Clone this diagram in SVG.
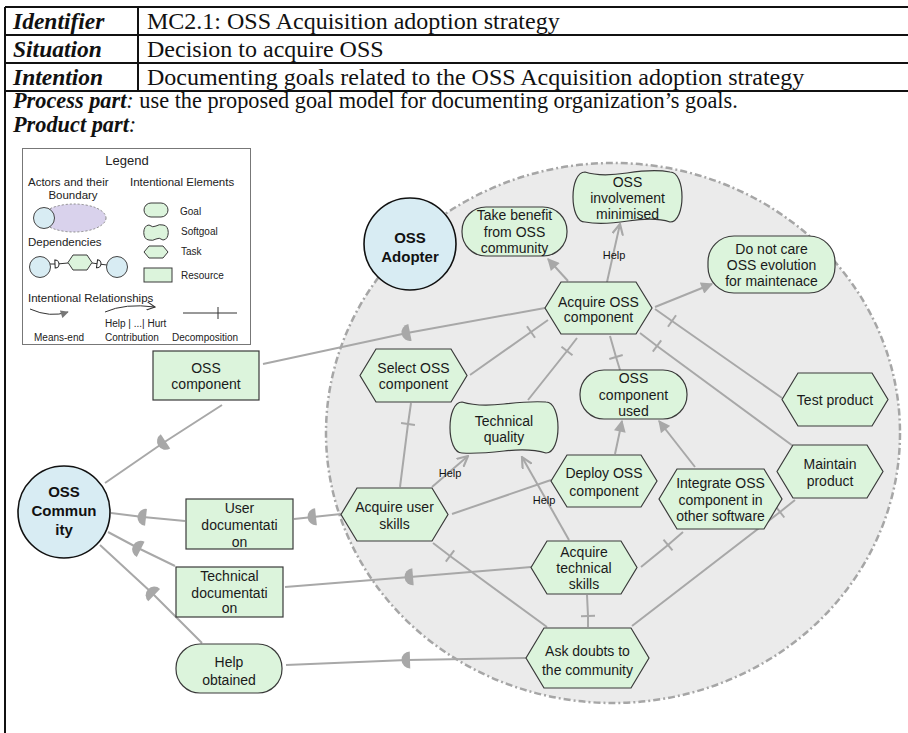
<svg xmlns="http://www.w3.org/2000/svg" width="908" height="733" viewBox="0 0 908 733">
<style>
.tbl{stroke:#111;stroke-width:2;fill:none}
.tb{font-family:"Liberation Serif","Times New Roman",serif;font-size:23.5px;font-weight:bold;font-style:italic;fill:#111}
.tr{font-family:"Liberation Serif","Times New Roman",serif;font-size:24px;fill:#111}
.tp{font-family:"Liberation Serif","Times New Roman",serif;font-size:22.3px;fill:#111}
.node{fill:#dcf4dc;stroke:#3a3a3a;stroke-width:1.2}
.actor{fill:#d8ecf3;stroke:#111;stroke-width:1.6}
.lbl{font-family:"Liberation Sans",Arial,sans-serif;font-size:14px;fill:#1a1a1a;text-anchor:middle}
.albl{font-family:"Liberation Sans",Arial,sans-serif;font-size:15px;font-weight:bold;fill:#111;text-anchor:middle}
.small{font-family:"Liberation Sans",Arial,sans-serif;font-size:11px;fill:#111;text-anchor:middle}
.link{fill:none;stroke:#a8a8a8;stroke-width:2}
.lg{font-family:"Liberation Sans",Arial,sans-serif;font-size:11.5px;fill:#222}
.lgs{font-family:"Liberation Sans",Arial,sans-serif;font-size:10px;fill:#222}
.lgl{fill:none;stroke:#333;stroke-width:1}
</style>
<defs>
<marker id="me" viewBox="0 0 10 10" refX="9" refY="5" markerWidth="13" markerHeight="12" markerUnits="userSpaceOnUse" orient="auto"><path d="M0,0 L10,5 L0,10 Z" fill="#a8a8a8"/></marker>
<marker id="help" viewBox="0 0 10 10" refX="9" refY="5" markerWidth="12" markerHeight="12" markerUnits="userSpaceOnUse" orient="auto"><path d="M0,0.5 L9,5 L0,9.5" fill="none" stroke="#a8a8a8" stroke-width="1.8"/></marker>
<marker id="dec" viewBox="-9 -9 18 18" refX="0" refY="0" markerWidth="18" markerHeight="18" markerUnits="userSpaceOnUse" orient="auto"><path d="M0,-7 L0,7" stroke="#a8a8a8" stroke-width="2"/></marker>
<marker id="dep" viewBox="-10 -10 20 20" refX="0" refY="0" markerWidth="20" markerHeight="20" markerUnits="userSpaceOnUse" orient="auto"><path d="M3,-8.5 A8.5,8.5 0 0,0 3,8.5 Z" fill="#a8a8a8"/></marker>
<marker id="lme" viewBox="0 0 10 10" refX="9" refY="5" markerWidth="9" markerHeight="8" markerUnits="userSpaceOnUse" orient="auto"><path d="M0,0 L10,5 L0,10 Z" fill="#777"/></marker>
<marker id="lhelp" viewBox="0 0 10 10" refX="9" refY="5" markerWidth="9" markerHeight="9" markerUnits="userSpaceOnUse" orient="auto"><path d="M0,0.5 L9,5 L0,9.5" fill="none" stroke="#333" stroke-width="1.2"/></marker>
<marker id="ldec" viewBox="-6 -6 12 12" refX="0" refY="0" markerWidth="12" markerHeight="12" markerUnits="userSpaceOnUse" orient="auto"><path d="M0,-6 L0,6" stroke="#333" stroke-width="1"/></marker>
<marker id="ldep" viewBox="-6 -6 12 12" refX="0" refY="0" markerWidth="12" markerHeight="12" markerUnits="userSpaceOnUse" orient="auto"><path d="M-2,-4 A4,4 0 0,1 -2,4 Z" fill="#fff" stroke="#222" stroke-width="1"/></marker>
</defs>

<!-- table -->
<g id="table">
<path class="tbl" d="M5,7 H908 M5,35 H908 M5,63 H908 M5,91 H908 M138,7 V91 M5,7 V733"/>
<text class="tb" x="13" y="29">Identifier</text>
<text class="tr" x="147" y="29">MC2.1: OSS Acquisition adoption strategy</text>
<text class="tb" x="13" y="57">Situation</text>
<text class="tr" x="147" y="57">Decision to acquire OSS</text>
<text class="tb" x="13" y="85">Intention</text>
<text class="tr" x="147" y="85">Documenting goals related to the OSS Acquisition adoption strategy</text>
<text class="tp" x="13" y="108"><tspan class="tb" style="font-size:22.3px">Process part</tspan><tspan style="font-style:italic">:</tspan> use the proposed goal model for documenting organization’s goals.</text>
<text class="tb" x="13" y="132" style="font-size:22.3px">Product part<tspan style="font-weight:normal">:</tspan></text>
</g>

<!-- legend -->
<g id="legend">
<rect x="22.5" y="148.5" width="228" height="196" fill="#fff" stroke="#777" stroke-width="1"/>
<text class="lg" x="127" y="165" style="font-size:13px" text-anchor="middle">Legend</text>
<text class="lg" x="28" y="186">Actors and their</text>
<text class="lg" x="73" y="199" text-anchor="middle">Boundary</text>
<ellipse cx="74" cy="218" rx="32" ry="14" fill="#d9d2ec" stroke="#888" stroke-width="1" stroke-dasharray="2 2"/>
<circle cx="44" cy="218" r="10.5" fill="#d8ecf3" stroke="#444" stroke-width="1"/>
<text class="lg" x="28" y="246">Dependencies</text>
<path class="lgl" d="M50,264 L57,264 L68,263"  marker-mid="url(#ldep)"/>
<path class="lgl" d="M92,263 L99,264 L107,265" marker-mid="url(#ldep)"/>
<polygon class="node" points="68,262.5 73,255 87,255 92,262.5 87,270 73,270" style="stroke-width:1"/>
<circle cx="40" cy="267" r="10.5" fill="#d8ecf3" stroke="#444" stroke-width="1"/>
<circle cx="117" cy="267" r="10.5" fill="#d8ecf3" stroke="#444" stroke-width="1"/>
<text class="lg" x="130" y="186">Intentional Elements</text>
<rect class="node" x="144" y="203" width="24" height="14" rx="7" style="stroke-width:1"/>
<text class="lgs" x="180" y="215">Goal</text>
<path class="node" style="stroke-width:1" d="M149,225 Q153,228 156,226 T163,225 C170,225 170,240 163,240 Q159,237 156,239 T149,240 C142,240 142,225 149,225 Z"/>
<text class="lgs" x="181" y="235">Softgoal</text>
<polygon class="node" style="stroke-width:1" points="144,252 149,246 163,246 168,252 163,258 149,258"/>
<text class="lgs" x="181" y="255">Task</text>
<rect class="node" style="stroke-width:1" x="144" y="268" width="28" height="14"/>
<text class="lgs" x="181" y="279">Resource</text>
<text class="lg" x="28" y="302">Intentional Relationships</text>
<path class="lgl" d="M30,309 Q50,318 68,312" stroke="#777" marker-end="url(#lme)"/>
<path class="lgl" d="M105,312 Q125,303 155,307" marker-end="url(#lhelp)"/>
<text class="lgs" x="105" y="327">Help | ...| Hurt</text>
<path class="lgl" d="M183,313 L218,313 L237,313" marker-mid="url(#ldec)"/>
<text class="lgs" x="34" y="341">Means-end</text>
<text class="lgs" x="105" y="341">Contribution</text>
<text class="lgs" x="172" y="341">Decomposition</text>
</g>

<!-- actor boundary -->
<g id="boundary">
<ellipse cx="613" cy="433" rx="287" ry="270" fill="#ebebeb" stroke="#a6a6a6" stroke-width="2.5" stroke-dasharray="7 3 2 3"/>
</g>

<!-- connectors -->
<g id="connectors">
<!-- dependencies -->
<path class="link" d="M263,364 L407,333 L545,308" marker-mid="url(#dep)"/>
<path class="link" d="M105,483 L163,443 L222,405" marker-mid="url(#dep)"/>
<path class="link" d="M111,513 L143,517 L185,521" marker-mid="url(#dep)"/>
<path class="link" d="M294,519 L313,517 L341,514" marker-mid="url(#dep)"/>
<path class="link" d="M108,532 L138,548 L175,566" marker-mid="url(#dep)"/>
<path class="link" d="M285,587 L410,577 L531,567" marker-mid="url(#dep)"/>
<path class="link" d="M100,545 L152,593 L202,643" marker-mid="url(#dep)"/>
<path class="link" d="M286,665 L407,660 L526,658" marker-mid="url(#dep)"/>
<!-- means-end -->
<path class="link" d="M568,281 L548,259" marker-end="url(#me)"/>
<path class="link" d="M655,307 L712,284" marker-end="url(#me)"/>
<path class="link" d="M615,454 L622,421" marker-end="url(#me)"/>
<path class="link" d="M695,467 L659,421" marker-end="url(#me)"/>
<!-- contributions -->
<path class="link" d="M607,282 L620,224" marker-end="url(#help)"/>
<path class="link" d="M432,487 L468,456" marker-end="url(#help)"/>
<path class="link" d="M569,540 L522,457" marker-end="url(#help)"/>
<!-- decompositions -->
<path class="link" d="M470,375 L531,332 L548,320" marker-mid="url(#dec)"/>
<path class="link" d="M528,400 L567,351 L577,338" marker-mid="url(#dec)"/>
<path class="link" d="M620,370 L616,357 L610,336" marker-mid="url(#dec)"/>
<path class="link" d="M782,398 L672,321 L655,309" marker-mid="url(#dec)"/>
<path class="link" d="M793,446 L657,346 L640,333" marker-mid="url(#dec)"/>
<path class="link" d="M400,487 L408,424 L411,403" marker-mid="url(#dec)"/>
<path class="link" d="M547,627 L450,556 L433,543" marker-mid="url(#dec)"/>
<path class="link" d="M588,627 L588,616 L587,595" marker-mid="url(#dec)"/>
<path class="link" d="M641,567 L668,545 L683,532" marker-mid="url(#dec)"/>
<path class="link" d="M632,626 L780,512 L795,500" marker-mid="url(#dec)"/>
<path class="link" d="M452,514 L551,480"/>
</g>

<!-- actors -->
<g id="oss-adopter">
<circle class="actor" cx="410" cy="244" r="46"/>
<text class="albl" x="410" y="243">OSS</text>
<text class="albl" x="410" y="262">Adopter</text>
</g>
<g id="oss-community">
<circle class="actor" cx="64" cy="512" r="46"/>
<text class="albl" x="64" y="497">OSS</text>
<text class="albl" x="64" y="516">Commun</text>
<text class="albl" x="64" y="535">ity</text>
</g>

<!-- intentional elements -->
<g id="take-benefit">
<rect class="node" x="462" y="207" width="105" height="49" rx="24"/>
<text class="lbl" x="514.5" y="220">Take benefit</text>
<text class="lbl" x="514.5" y="237">from OSS</text>
<text class="lbl" x="514.5" y="253">community</text>
</g>
<g id="oss-involvement">
<path class="node" d="M585,172 Q600,177 627,173 T670,172 C686,172 686,222 670,222 Q655,217 628,221 T585,222 C569,222 569,172 585,172 Z"/>
<text class="lbl" x="627.5" y="187">OSS</text>
<text class="lbl" x="627.5" y="203">involvement</text>
<text class="lbl" x="627.5" y="219">minimised</text>
</g>
<g id="acquire-oss">
<polygon class="node" points="545,308 561,282 636,282 652,308 636,334 561,334"/>
<text class="lbl" x="598.5" y="307">Acquire OSS</text>
<text class="lbl" x="598.5" y="322">component</text>
</g>
<g id="do-not-care">
<rect class="node" x="708" y="236" width="127" height="57" rx="26"/>
<text class="lbl" x="771.5" y="254">Do not care</text>
<text class="lbl" x="771.5" y="270">OSS evolution</text>
<text class="lbl" x="771.5" y="286">for maintenace</text>
</g>
<g id="test-product">
<polygon class="node" points="782,399.5 798,373 872,373 888,399.5 872,426 798,426"/>
<text class="lbl" x="835" y="405">Test product</text>
</g>
<g id="oss-used">
<rect class="node" x="580" y="370" width="107" height="49" rx="24"/>
<text class="lbl" x="633.5" y="383">OSS</text>
<text class="lbl" x="633.5" y="400">component</text>
<text class="lbl" x="633.5" y="416">used</text>
</g>
<g id="select-oss">
<polygon class="node" points="360,375.5 376,349 451,349 467,375.5 451,402 376,402"/>
<text class="lbl" x="413.5" y="373">Select OSS</text>
<text class="lbl" x="413.5" y="389">component</text>
</g>
<g id="technical-quality">
<path class="node" d="M462,402 Q478,407 504,404 T546,402 C562,402 562,453 546,453 Q530,448 504,451 T462,453 C446,453 446,402 462,402 Z"/>
<text class="lbl" x="504" y="426">Technical</text>
<text class="lbl" x="504" y="442">quality</text>
</g>
<g id="deploy-oss">
<polygon class="node" points="551,481 567,455 641,455 657,481 641,507 567,507"/>
<text class="lbl" x="604" y="478">Deploy OSS</text>
<text class="lbl" x="604" y="496">component</text>
</g>
<g id="acquire-user">
<polygon class="node" points="341,514.5 357,488 432,488 448,514.5 432,541 357,541"/>
<text class="lbl" x="394.5" y="512">Acquire user</text>
<text class="lbl" x="394.5" y="529">skills</text>
</g>
<g id="acquire-technical">
<polygon class="node" points="531,567.5 547,541 621,541 637,567.5 621,594 547,594"/>
<text class="lbl" x="584" y="557">Acquire</text>
<text class="lbl" x="584" y="573">technical</text>
<text class="lbl" x="584" y="589">skills</text>
</g>
<g id="ask-doubts">
<polygon class="node" points="526,658 544,628 631,628 649,658 631,688 544,688"/>
<text class="lbl" x="587.5" y="656">Ask doubts to</text>
<text class="lbl" x="587.5" y="675">the community</text>
</g>
<g id="integrate">
<polygon class="node" points="659,499 677,469 764,469 782,499 764,529 677,529"/>
<text class="lbl" x="720.5" y="488">Integrate OSS</text>
<text class="lbl" x="720.5" y="505">component in</text>
<text class="lbl" x="720.5" y="521">other software</text>
</g>
<g id="maintain">
<polygon class="node" points="777,471.5 793,445 867,445 883,471.5 867,498 793,498"/>
<text class="lbl" x="830" y="469">Maintain</text>
<text class="lbl" x="830" y="486">product</text>
</g>
<g id="oss-component-res">
<rect class="node" x="153" y="351" width="106" height="49"/>
<text class="lbl" x="206" y="373">OSS</text>
<text class="lbl" x="206" y="389">component</text>
</g>
<g id="user-doc">
<rect class="node" x="186" y="499" width="107" height="50"/>
<text class="lbl" x="239.5" y="513">User</text>
<text class="lbl" x="239.5" y="530">documentati</text>
<text class="lbl" x="239.5" y="547">on</text>
</g>
<g id="tech-doc">
<rect class="node" x="176" y="567" width="107" height="50"/>
<text class="lbl" x="229.5" y="581">Technical</text>
<text class="lbl" x="229.5" y="598">documentati</text>
<text class="lbl" x="229.5" y="613">on</text>
</g>
<g id="help-obtained">
<rect class="node" x="176" y="644" width="106" height="49" rx="24"/>
<text class="lbl" x="229" y="667">Help</text>
<text class="lbl" x="229" y="685">obtained</text>
</g>

<!-- contribution labels -->
<g id="labels">
<text class="small" x="614" y="259">Help</text>
<text class="small" x="450" y="477">Help</text>
<text class="small" x="544" y="504">Help</text>
</g>
</svg>
